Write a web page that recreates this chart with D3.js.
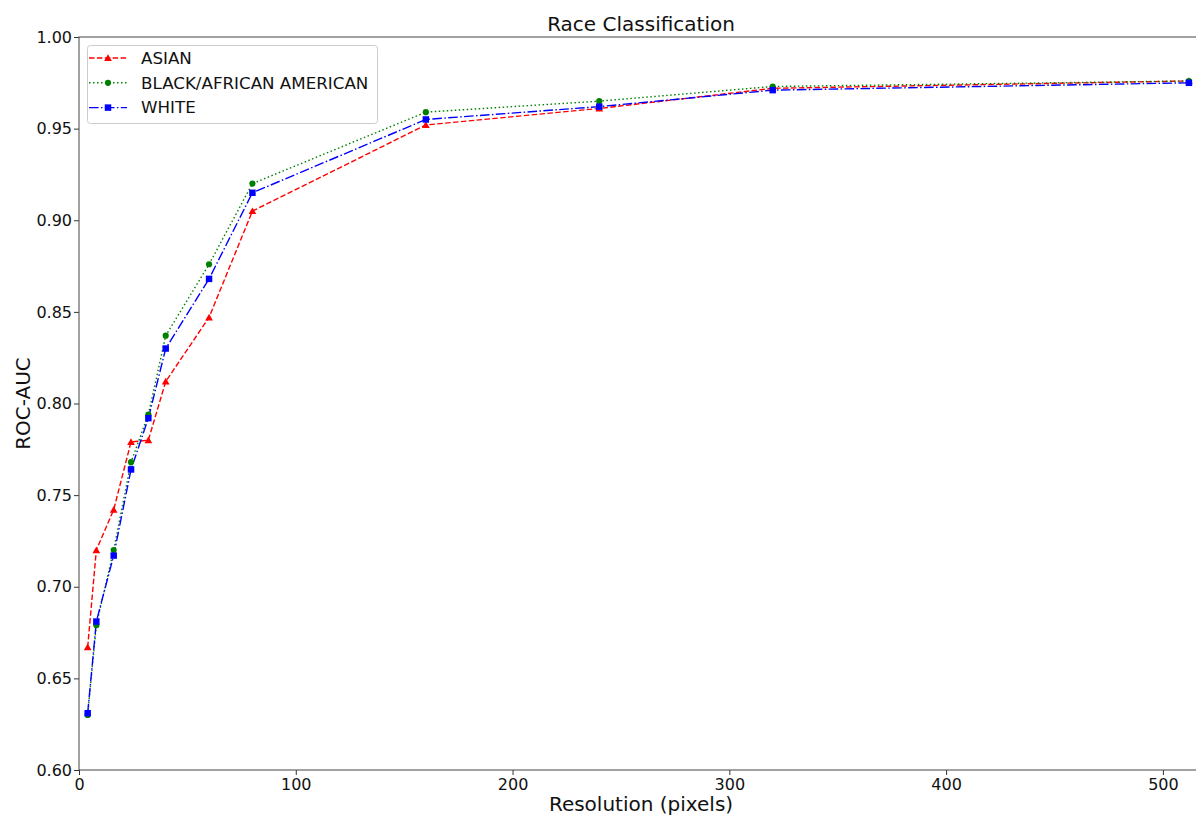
<!DOCTYPE html>
<html>
<head>
<meta charset="utf-8">
<script src="https://cdn.jsdelivr.net/npm/d3@7"></script>
<style>
  html, body { margin: 0; padding: 0; background: #fff; overflow: hidden; }
  svg { display: block; font-family: "DejaVu Sans", sans-serif; }
</style>
</head>
<body>
<svg id="chart" width="1196" height="815"></svg>
<script>
const resolutions = [4, 8, 16, 24, 32, 40, 60, 80, 160, 240, 320, 512];
const asian = [0.667, 0.720, 0.742, 0.779, 0.780, 0.812, 0.847, 0.905, 0.952, 0.961, 0.972, 0.976];
const black = [0.630, 0.679, 0.720, 0.768, 0.794, 0.837, 0.876, 0.920, 0.959, 0.965, 0.973, 0.976];
const white = [0.631, 0.681, 0.717, 0.764, 0.792, 0.830, 0.868, 0.915, 0.955, 0.962, 0.971, 0.975];
const xTicks = [0, 100, 200, 300, 400, 500];
const yTicks = [0.60, 0.65, 0.70, 0.75, 0.80, 0.85, 0.90, 0.95, 1.00];

const series = [
  { name: "ASIAN", values: asian, color: "#ff0000", dash: "5.5,2.4", marker: "triangle" },
  { name: "BLACK/AFRICAN AMERICAN", values: black, color: "#008000", dash: "1.5,2.5", marker: "circle" },
  { name: "WHITE", values: white, color: "#0000ff", dash: "9.6,2.4,1.5,2.4", marker: "square" }
];

const svg = d3.select("#chart");
const L = 79, R = 1203, T = 37, B = 770;
const x = d3.scaleLinear().domain([0, 518.5]).range([L, R]);
const y = d3.scaleLinear().domain([0.60, 1.00]).range([B, T]);

svg.append("defs").append("clipPath").attr("id", "clip")
  .append("rect").attr("x", L).attr("y", T - 6).attr("width", R - L + 10).attr("height", B - T + 12);

// axes
const xAxis = svg.append("g").attr("transform", `translate(0,${B})`)
  .call(d3.axisBottom(x).tickValues(xTicks).tickFormat(d3.format("d")).tickSize(5).tickSizeOuter(0));
const yAxis = svg.append("g").attr("transform", `translate(${L},0)`)
  .call(d3.axisLeft(y).tickValues(yTicks).tickFormat(d3.format(".2f")).tickSize(5).tickSizeOuter(0));
[xAxis, yAxis].forEach(g => {
  g.select(".domain").remove();
  g.selectAll("line").attr("stroke", "#333").attr("stroke-width", 1);
  g.selectAll("text").attr("font-family", "DejaVu Sans").attr("font-size", 16).attr("fill", "#111");
});
xAxis.selectAll("text").attr("dy", "0.85em").attr("y", 6);
yAxis.selectAll("text").attr("x", -7);

// spines
svg.append("rect").attr("x", L).attr("y", T).attr("width", R - L).attr("height", B - T)
  .attr("fill", "none").attr("stroke", "#444").attr("stroke-width", 1);

// lines
const plot = svg.append("g").attr("clip-path", "url(#clip)");
const line = d3.line().x((d, i) => x(resolutions[i])).y(d => y(d));
const symbols = { triangle: d3.symbolTriangle, circle: d3.symbolCircle, square: d3.symbolSquare };
const sizes = { triangle: 26, circle: 30, square: 42 };

series.forEach(s => {
  plot.append("path").datum(s.values)
    .attr("d", line).attr("fill", "none")
    .attr("stroke", s.color).attr("stroke-width", 1.4)
    .attr("stroke-dasharray", s.dash);
});
series.forEach(s => {
  const sym = d3.symbol().type(symbols[s.marker]).size(sizes[s.marker]);
  plot.selectAll(null).data(s.values).enter().append("path")
    .attr("d", sym)
    .attr("transform", (d, i) => `translate(${x(resolutions[i])},${y(d) + (s.marker === "triangle" ? 0.8 : 0)})`)
    .attr("fill", s.color);
});

// title & labels
svg.append("text").attr("x", (L + R) / 2).attr("y", 31).attr("text-anchor", "middle")
  .attr("font-size", 20).attr("fill", "#111").text("Race Classification");
svg.append("text").attr("x", (L + R) / 2).attr("y", 811).attr("text-anchor", "middle")
  .attr("font-size", 20).attr("fill", "#111").text("Resolution (pixels)");
svg.append("text").attr("transform", `translate(30,${(T + B) / 2}) rotate(-90)`)
  .attr("text-anchor", "middle").attr("font-size", 20).attr("fill", "#111").text("ROC-AUC");

// legend
const lg = svg.append("g");
lg.append("rect").attr("x", 87.5).attr("y", 45.5).attr("width", 290).attr("height", 78).attr("rx", 3)
  .attr("fill", "#fff").attr("fill-opacity", 0.8).attr("stroke", "#ccc").attr("stroke-width", 1);
series.forEach((s, i) => {
  const cy = 58 + i * 24.8;
  lg.append("line").attr("x1", 89).attr("x2", 127).attr("y1", cy).attr("y2", cy)
    .attr("stroke", s.color).attr("stroke-width", 1.4).attr("stroke-dasharray", s.dash);
  lg.append("path").attr("d", d3.symbol().type(symbols[s.marker]).size(sizes[s.marker]))
    .attr("transform", `translate(108,${cy + (s.marker === "triangle" ? 0.8 : 0)})`).attr("fill", s.color);
  lg.append("text").attr("x", 141).attr("y", cy).attr("dy", "0.35em")
    .attr("font-size", 16.7).attr("fill", "#111").text(s.name);
});
</script>
</body>
</html>
